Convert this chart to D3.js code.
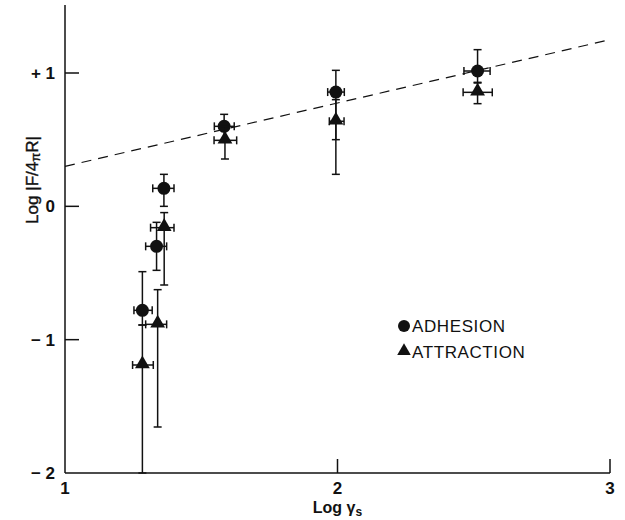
<!DOCTYPE html>
<html lang="en">
<head>
    <meta charset="UTF-8">
    <title>Log F/4piR vs Log gamma_s</title>
    <script src="https://d3js.org/d3.v7.min.js"></script>
    <style>
        body { margin: 0; background: #fff; }
        text { font-family: "Liberation Sans", Arial, sans-serif; fill: #111; }
    </style>
</head>
<body>
    <svg id="main" width="625" height="520"></svg>
    <script>
        // adhesion points: x, y, x range, y range
        const adhesionX = [1.284, 1.336, 1.363, 1.584, 1.994, 2.514]
        const adhesionY = [-0.78, -0.30, 0.135, 0.60, 0.857, 1.015]
        const adhesionXErr = [[1.253, 1.32], [1.296, 1.373], [1.322, 1.40], [1.548, 1.621], [1.964, 2.025], [2.464, 2.56]]
        const adhesionYErr = [[-0.89, -0.49], [-0.48, -0.12], [0.0, 0.24], [0.50, 0.69], [0.50, 1.02], [0.925, 1.175]]

        // attraction points
        const attractionX = [1.284, 1.34, 1.364, 1.587, 1.994, 2.514]
        const attractionY = [-1.19, -0.885, -0.16, 0.495, 0.638, 0.855]
        const attractionXErr = [[1.248, 1.324], [1.296, 1.373], [1.314, 1.40], [1.547, 1.63], [1.97, 2.024], [2.461, 2.568]]
        const attractionYErr = [[-2.0, -0.89], [-1.655, -0.625], [-0.59, -0.047], [0.355, 0.60], [0.24, 0.80], [0.77, 0.93]]

        // dashed fit line end points
        const fitX = [1, 3]
        const fitY = [0.30, 1.25]

        const xTicks = [1, 2, 3]
        const yTicks = [1, 0, -1, -2]
        const yTickLabels = ["+ 1", "0", "\u2212 1", "\u2212 2"]

        const svg = d3.select("#main")
        const x = d3.scaleLinear().domain([1, 3]).range([65, 610])
        const y = d3.scaleLinear().domain([-2, 1]).range([473, 73])

        const ink = "#111"

        // axes frame
        svg.append("line")
            .attr("x1", x(1)).attr("x2", x(1))
            .attr("y1", y(-2)).attr("y2", 5)
            .attr("stroke", ink).attr("stroke-width", 1.5)
        svg.append("line")
            .attr("x1", x(1)).attr("x2", x(3))
            .attr("y1", y(-2)).attr("y2", y(-2))
            .attr("stroke", ink).attr("stroke-width", 1.5)

        // x ticks point up, y ticks point right
        svg.selectAll(".xtick")
            .data(xTicks.slice(1))
            .join("line")
            .attr("class", "xtick")
            .attr("x1", function(d) { return x(d) }).attr("x2", function(d) { return x(d) })
            .attr("y1", y(-2)).attr("y2", y(-2) - 14)
            .attr("stroke", ink).attr("stroke-width", 1.5)
        svg.selectAll(".ytick")
            .data(yTicks.slice(0, 3))
            .join("line")
            .attr("class", "ytick")
            .attr("x1", x(1)).attr("x2", x(1) + 14)
            .attr("y1", function(d) { return y(d) }).attr("y2", function(d) { return y(d) })
            .attr("stroke", ink).attr("stroke-width", 1.5)

        svg.selectAll(".xlab")
            .data(xTicks)
            .join("text")
            .attr("class", "xlab")
            .attr("x", function(d) { return x(d) })
            .attr("y", y(-2) + 21)
            .attr("text-anchor", "middle")
            .attr("font-size", 17).attr("font-weight", "bold")
            .text(function(d) { return d })
        svg.selectAll(".ylab")
            .data(yTicks)
            .join("text")
            .attr("class", "ylab")
            .attr("x", x(1) - 10)
            .attr("y", function(d) { return y(d) + 6 })
            .attr("text-anchor", "end")
            .attr("font-size", 17).attr("font-weight", "bold")
            .text(function(d, i) { return yTickLabels[i] })

        // axis titles
        const xTitle = svg.append("text")
            .attr("x", x(2)).attr("y", 513)
            .attr("text-anchor", "middle")
            .attr("font-size", 16).attr("font-weight", "bold")
        xTitle.append("tspan").text("Log \u03b3")
        xTitle.append("tspan").attr("font-size", 12).attr("dy", 3).text("s")

        const yTitle = svg.append("text")
            .attr("transform", "translate(38,180) rotate(-90)")
            .attr("text-anchor", "middle")
            .attr("font-size", 17)
            .attr("stroke", "#111").attr("stroke-width", 0.4)
        yTitle.append("tspan").text("Log |F/4")
        yTitle.append("tspan").attr("font-size", 13).attr("dy", 2).text("\u03c0")
        yTitle.append("tspan").attr("dy", -2).text("R|")

        // dashed fit line
        svg.append("line")
            .attr("x1", x(fitX[0])).attr("y1", y(fitY[0]))
            .attr("x2", x(fitX[1])).attr("y2", y(fitY[1]))
            .attr("stroke", ink).attr("stroke-width", 1.2)
            .attr("stroke-dasharray", "10,7")

        function drawSeries(cls, xs, ys, xErr, yErr) {
            const pts = xs.map(function(d, i) {
                return { x: d, y: ys[i], xe: xErr[i], ye: yErr[i] }
            })
            const g = svg.append("g").attr("class", cls)
                .attr("stroke", ink).attr("stroke-width", 1.5)
            // vertical bars
            g.selectAll(".vbar").data(pts).join("line").attr("class", "vbar")
                .attr("x1", function(d) { return x(d.x) }).attr("x2", function(d) { return x(d.x) })
                .attr("y1", function(d) { return y(d.ye[0]) }).attr("y2", function(d) { return y(d.ye[1]) })
            g.selectAll(".vcap").data(pts.flatMap(function(d) { return d.ye.map(function(v) { return { x: d.x, v: v } }) }))
                .join("line").attr("class", "vcap")
                .attr("x1", function(d) { return x(d.x) - 4 }).attr("x2", function(d) { return x(d.x) + 4 })
                .attr("y1", function(d) { return y(d.v) }).attr("y2", function(d) { return y(d.v) })
            // horizontal bars
            g.selectAll(".hbar").data(pts).join("line").attr("class", "hbar")
                .attr("x1", function(d) { return x(d.xe[0]) }).attr("x2", function(d) { return x(d.xe[1]) })
                .attr("y1", function(d) { return y(d.y) }).attr("y2", function(d) { return y(d.y) })
            g.selectAll(".hcap").data(pts.flatMap(function(d) { return d.xe.map(function(v) { return { y: d.y, v: v } }) }))
                .join("line").attr("class", "hcap")
                .attr("x1", function(d) { return x(d.v) }).attr("x2", function(d) { return x(d.v) })
                .attr("y1", function(d) { return y(d.y) - 4 }).attr("y2", function(d) { return y(d.y) + 4 })
            return { g: g, pts: pts }
        }

        const circ = drawSeries("adhesion", adhesionX, adhesionY, adhesionXErr, adhesionYErr)
        const tri = drawSeries("attraction", attractionX, attractionY, attractionXErr, attractionYErr)

        const triangle = d3.symbol().type(d3.symbolTriangle).size(95)

        circ.g.selectAll(".pt").data(circ.pts).join("circle").attr("class", "pt")
            .attr("cx", function(d) { return x(d.x) })
            .attr("cy", function(d) { return y(d.y) })
            .attr("r", 6.5).attr("fill", ink).attr("stroke", "none")
        tri.g.selectAll(".pt").data(tri.pts).join("path").attr("class", "pt")
            .attr("transform", function(d) { return "translate(" + x(d.x) + "," + (y(d.y) - 1) + ")" })
            .attr("d", triangle).attr("fill", ink).attr("stroke", "none")

        // legend
        const legend = svg.append("g").attr("transform", "translate(404,326)")
        legend.append("circle").attr("cx", 0).attr("cy", 0).attr("r", 6).attr("fill", ink)
        legend.append("text").attr("x", 8).attr("y", 6).attr("font-size", 17)
            .attr("letter-spacing", 0.6).text("ADHESION")
        legend.append("path").attr("transform", "translate(0,25)")
            .attr("d", d3.symbol().type(d3.symbolTriangle).size(80)).attr("fill", ink)
        legend.append("text").attr("x", 8).attr("y", 32).attr("font-size", 17)
            .attr("letter-spacing", 0.6).text("ATTRACTION")
    </script>
</body>
</html>
